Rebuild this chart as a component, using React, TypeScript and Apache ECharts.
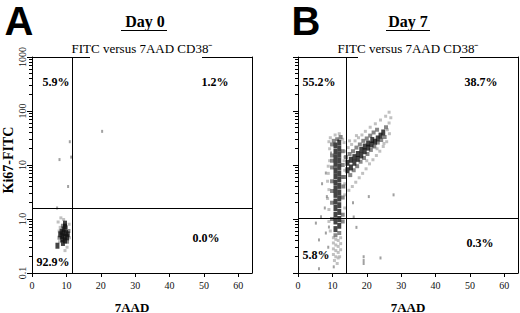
import React, { useEffect, useRef } from 'react';
import * as echarts from 'echarts';

// ---------- data ----------
const X_TICKS = [0, 10, 20, 30, 40, 50, 60];
const Y_DECADE_LABELS = ['0.1', '1.0', '10', '100', '1000'];
const Y_MINOR = [
  0.2, 0.3, 0.4, 0.5, 0.6, 0.7, 0.8, 0.9,
  2, 3, 4, 5, 6, 7, 8, 9,
  20, 30, 40, 50, 60, 70, 80, 90,
  200, 300, 400, 500, 600, 700, 800, 900,
];

const panelLetters = ['A', 'B'];
const panelTitles = ['Day 0', 'Day 7'];
const plotTitle = 'FITC versus 7AAD CD38⁻';
const xName = '7AAD';
const yName = 'Ki67-FITC';

const day0Gate = [11.8, 1.6];
const day7Gate = [14.0, 1.05];
const day0Pct = ['5.9%', '1.2%', '0.0%', '92.9%'];
const day7Pct = ['55.2%', '38.7%', '0.3%', '5.8%'];

// Day 0 density cells [7AAD, Ki67]
const day0Dark = [
  [9.6, 0.82], [9.6, 0.72], [9.2, 0.64], [8.6, 0.58], [9.2, 0.55], [9.9, 0.55],
  [10.4, 0.52], [8.2, 0.52], [8.8, 0.48], [9.5, 0.46], [10.2, 0.46], [8.8, 0.42],
  [9.6, 0.4], [9.0, 0.36], [7.4, 0.32],
];
const day0Mid = [[10.6, 0.6], [10.2, 0.38], [8.0, 0.45], [9.9, 0.7], [9.0, 0.75]];
const day0Light = [
  [8.4, 1.05], [9.2, 0.98], [7.6, 0.88], [10.8, 0.8], [10.9, 0.45], [8.0, 0.38],
  [10.2, 0.3], [9.6, 0.26], [10.4, 0.42], [8.2, 0.7], [7.9, 0.6],
];
const day0Sparse = [[20.4, 42], [11, 27], [8, 12.6], [11.4, 14], [10.5, 4], [7.3, 1.6]];

// Day 7 density cells [7AAD, Ki67]
const day7Dark = [
  [10.9, 0.65], [10.9, 0.9], [10.9, 1.2], [10.9, 1.6], [10.9, 2.1], [10.9, 2.8], [10.9, 3.6],
  [10.9, 4.7], [10.9, 6.2], [10.9, 8.0], [10.9, 10.5], [10.9, 13.5], [10.9, 17.5], [10.9, 23],
  [12.0, 0.75], [12.0, 1.0], [12.0, 1.35], [12.0, 1.8], [12.0, 2.4], [12.0, 3.1], [12.0, 4.1],
  [12.0, 5.4], [12.0, 7.0], [12.0, 9.2], [12.0, 12], [12.0, 15.5], [12.0, 20], [12.0, 26],
  [14.4, 8], [14.4, 11], [15.4, 9], [15.4, 12.5], [16.4, 11], [16.4, 14], [17.4, 13],
  [17.4, 16], [18.4, 15], [18.4, 19], [19.4, 18], [19.4, 22], [20.4, 21], [20.4, 25],
  [21.4, 24], [22.4, 27], [23.2, 31], [24.0, 35], [24.8, 40], [21.6, 29],
];
const day7Mid = [
  [9.9, 2], [9.9, 5], [9.9, 9], [9.9, 15], [9.9, 24], [13.0, 2.5], [13.0, 6], [13.0, 1.2],
  [13.0, 18], [11.4, 30], [12.4, 33], [10.4, 28], [10.9, 0.5], [12.0, 0.55], [9.9, 1.0], [13.0, 0.9],
  [13.4, 6], [14, 14], [15, 16], [16, 18], [17, 21], [18, 24], [19, 28], [20, 31], [21, 35],
  [22, 40], [23, 45], [25.6, 50], [15.2, 6.5], [16.2, 8], [17.2, 9.5], [18.2, 11.5], [19.2, 13.5],
  [20.2, 16], [21.2, 19], [22.2, 22], [23.2, 26], [24.2, 29], [25.2, 33], [13.2, 4],
  [13.0, 10], [9.9, 3.3], [9.9, 12],
];
const day7Light = [
  [10.3, 0.45], [11.0, 0.42], [11.7, 0.4], [12.4, 0.45], [10.3, 0.36], [11.0, 0.33], [11.7, 0.31],
  [12.4, 0.35], [10.3, 0.28], [11.0, 0.26], [11.7, 0.24], [12.4, 0.27], [10.3, 0.22], [11.0, 0.2],
  [11.7, 0.19], [10.6, 0.17], [11.4, 0.15], [12.1, 0.2],
  [9.0, 1.5], [9.0, 3.5], [8.8, 7], [9.2, 12], [9.2, 20], [9.4, 32], [13.6, 1.6], [13.6, 8],
  [13.4, 12], [13.4, 26], [12.0, 38], [10.8, 36], [9.0, 0.9], [9.4, 0.6], [8.6, 2.4],
  [8.6, 5], [8.8, 9.5], [9.0, 27], [13.6, 4.5], [13.6, 14], [13.0, 30],
  [13.6, 18], [14.6, 21], [15.6, 24], [16.6, 28], [17.6, 32], [18.6, 36], [19.6, 42], [21, 50],
  [22.5, 58], [24, 68], [25.5, 80], [26.5, 95], [27, 75], [26.5, 60], [26, 45], [26.6, 38],
  [25.8, 27], [24.8, 22], [23.8, 18], [22.8, 15], [21.8, 12.5], [20.8, 10.5], [19.8, 8.5],
  [18.8, 7], [17.8, 5.8], [16.8, 4.8], [15.8, 4], [14.8, 3.4], [13.6, 2.8], [15, 28], [17, 35],
  [20, 12], [23, 20], [25, 25],
];
const day7Sparse = [
  [8.1, 7.1], [9.6, 16.7], [8.4, 2.6], [5.2, 0.84], [6.7, 1.1], [8.1, 0.55], [6.1, 0.41],
  [9.0, 0.71], [6.1, 0.12], [10.4, 0.13], [16.2, 1.09], [17.0, 0.7], [19.1, 0.2], [19.1, 0.17],
  [19.1, 0.15], [24.0, 0.19], [20.6, 2.6], [27.8, 2.8], [7.5, 0.22], [8.8, 0.3], [7.0, 4.5],
  [7.8, 1.6], [16, 2],
];

// ---------- chart ----------
const SERIF = '"Liberation Serif", "Times New Roman", serif';
const SANS = '"Liberation Sans", Arial, sans-serif';

function decadeLabel(v: number): string {
  const idx = Math.round(Math.log10(v)) + 1;
  return Y_DECADE_LABELS[idx] ?? String(v);
}

function buildOption() {
  const grids = [
    { left: 32, top: 57, width: 220, height: 216 },
    { left: 298, top: 57, width: 220, height: 216 },
  ];

  const xAxes = [0, 1].map((g) => ({
    type: 'value',
    gridIndex: g,
    min: 0,
    max: 64,
    interval: 10,
    axisLine: { show: true, lineStyle: { color: '#000', width: 1 } },
    axisTick: { show: true, length: 4, customValues: X_TICKS, lineStyle: { color: '#000' } },
    axisLabel: { show: true, customValues: X_TICKS, margin: 7, color: '#111', fontSize: 10, fontFamily: SERIF },
    splitLine: { show: false },
  }));

  const yAxes: any[] = [];
  [0, 1].forEach((g) => {
    yAxes.push({
      type: 'log',
      logBase: 10,
      gridIndex: g,
      min: 0.1,
      max: 1000,
      position: 'left',
      axisLine: { show: true, lineStyle: { color: '#000', width: 1 } },
      axisTick: { show: true, length: 5, lineStyle: { color: '#000' } },
      axisLabel: {
        show: g === 0,
        rotate: 90,
        margin: 5,
        color: '#111',
        fontSize: 10,
        fontFamily: SERIF,
        formatter: (v: number) => decadeLabel(v),
      },
      splitLine: { show: false },
    });
    yAxes.push({
      type: 'log',
      logBase: 10,
      gridIndex: g,
      min: 0.1,
      max: 1000,
      position: 'right',
      axisLine: { show: true, lineStyle: { color: '#000', width: 1 } },
      axisTick: { show: false },
      axisLabel: { show: false },
      splitLine: { show: false },
    });
    yAxes.push({
      type: 'log',
      logBase: 10,
      gridIndex: g,
      min: 0.1,
      max: 1000,
      position: 'left',
      axisLine: { show: false },
      axisTick: { show: true, length: 3, customValues: Y_MINOR, lineStyle: { color: '#000' } },
      axisLabel: { show: false },
      splitLine: { show: false },
    });
  });

  const panels = [
    { dark: day0Dark, mid: day0Mid, light: day0Light, sparse: day0Sparse, gate: day0Gate },
    { dark: day7Dark, mid: day7Mid, light: day7Light, sparse: day7Sparse, gate: day7Gate },
  ];

  const series: any[] = [];
  panels.forEach((p, g) => {
    const base = { type: 'scatter', xAxisIndex: g, yAxisIndex: g * 3, silent: true, symbol: 'rect' };
    series.push({ ...base, name: `light${g}`, data: p.light, symbolSize: [3, 3], itemStyle: { color: '#b2b2b2' }, z: 2 });
    series.push({ ...base, name: `sparse${g}`, data: p.sparse, symbolSize: [2, 3], itemStyle: { color: '#8a8a8a' }, z: 2 });
    series.push({ ...base, name: `mid${g}`, data: p.mid, symbolSize: [4, 4], itemStyle: { color: '#6a6a6a' }, z: 3 });
    series.push({
      ...base,
      name: `dark${g}`,
      data: p.dark,
      symbolSize: [4, 6],
      itemStyle: { color: '#141414' },
      z: 4,
      markLine: {
        silent: true,
        symbol: ['none', 'none'],
        label: { show: false },
        lineStyle: { color: '#000', type: 'solid', width: 1 },
        data: [{ xAxis: p.gate[0] }, { yAxis: p.gate[1] }],
      },
    });
  });

  const txt = (
    text: string, x: number, y: number, size: number, bold: boolean,
    family = SERIF, rotation = 0, vAlign = 'middle',
  ) => ({
    type: 'text',
    x,
    y,
    rotation,
    style: {
      text,
      fill: '#000',
      font: `${bold ? 'bold ' : ''}${size}px ${family}`,
      textAlign: 'center',
      textVerticalAlign: vAlign,
    },
  });
  const line = (x1: number, y1: number, x2: number, y2: number) => ({
    type: 'line',
    shape: { x1, y1, x2, y2 },
    style: { stroke: '#000', lineWidth: 1 },
  });

  const graphic: any[] = [
    txt(panelLetters[0], 19, 1, 40, true, SANS, 0, 'top'),
    txt(panelLetters[1], 306, 1, 40, true, SANS, 0, 'top'),
    txt(panelTitles[0], 145, 21, 16, true),
    line(121, 30.5, 167, 30.5),
    txt(panelTitles[1], 408, 21, 16, true),
    line(386, 30.5, 430, 30.5),
    txt(plotTitle, 142, 48, 13, false),
    txt(plotTitle, 408, 48, 13, false),
    line(32, 57.5, 90, 57.5),
    line(202, 57.5, 252, 57.5),
    line(298, 57.5, 358, 57.5),
    line(460, 57.5, 518, 57.5),
    txt(yName, 8, 160, 14, true, SERIF, Math.PI / 2),
    txt(xName, 132, 307, 13, true),
    txt(xName, 408, 307, 13, true),
    txt(day0Pct[0], 56, 82, 12, true),
    txt(day0Pct[1], 215, 82, 12, true),
    txt(day0Pct[2], 206, 238, 12, true),
    txt(day0Pct[3], 53, 262, 12, true),
    txt(day7Pct[0], 319, 82, 12, true),
    txt(day7Pct[1], 481, 82, 12, true),
    txt(day7Pct[2], 480, 243, 12, true),
    txt(day7Pct[3], 316, 255, 12, true),
  ];

  return {
    animation: false,
    backgroundColor: '#fff',
    grid: grids,
    xAxis: xAxes,
    yAxis: yAxes,
    series,
    graphic,
  };
}

export default function App() {
  const ref = useRef<HTMLDivElement>(null);
  useEffect(() => {
    if (!ref.current) return;
    const chart = echarts.init(ref.current, undefined, { renderer: 'svg' });
    chart.setOption(buildOption() as any);
    return () => chart.dispose();
  }, []);
  return (
    <div
      ref={ref}
      style={{ position: 'fixed', left: 0, top: 0, width: 520, height: 313, background: '#fff' }}
    />
  );
}
